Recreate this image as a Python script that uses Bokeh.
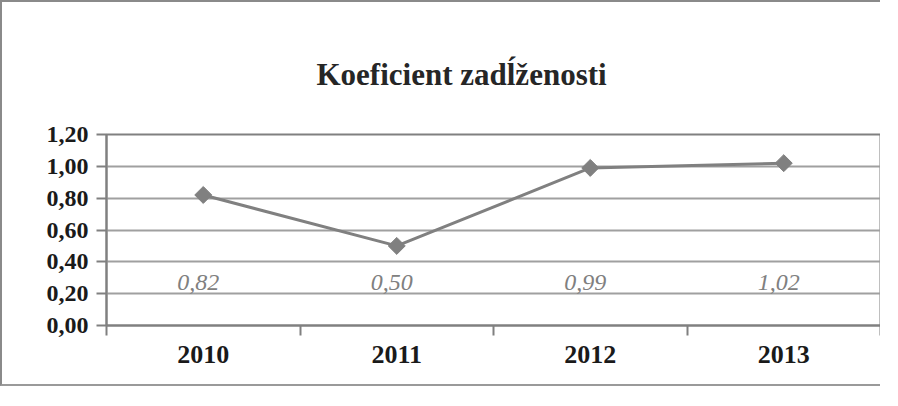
from bokeh.plotting import figure
from bokeh.models import FixedTicker, Range1d, ColumnDataSource
from bokeh.core.properties import value
from bokeh.embed import file_html
from bokeh.resources import INLINE
import math

# ---- data ----
years = ["2010", "2011", "2012", "2013"]
ratio = [0.82, 0.50, 0.99, 1.02]
y_ticks = [0.0, 0.2, 0.4, 0.6, 0.8, 1.0, 1.2]
y_tick_labels = ["0,00", "0,20", "0,40", "0,60", "0,80", "1,00", "1,20"]
title_text = "Koeficient zadĺženosti"

GRAY = "#808080"
GRID = "#a0a0a0"
SERIF = "Liberation Serif"

xs = [i + 0.5 for i in range(len(years))]
labels = [f"{v:.2f}".replace(".", ",") for v in ratio]
src = ColumnDataSource(dict(x=xs, y=ratio, lab=labels, ly=[0.27] * len(xs)))

p = figure(width=880, height=386, output_backend="svg", toolbar_location=None,
           x_range=Range1d(0, len(years)), y_range=Range1d(0, 1.2),
           min_border_left=104, min_border_right=2, min_border_top=132, min_border_bottom=63)
p.styles = {"border-left": "2px solid #8a8a8a", "border-top": "2px solid #8a8a8a",
            "border-bottom": "2px solid #9a9a9a"}
p.background_fill_color = "white"
p.border_fill_color = "white"
p.outline_line_color = GRAY
p.outline_line_width = 2

# title
p.title.text = title_text
p.title.text_font = SERIF
p.title.text_font_style = "bold"
p.title.text_font_size = "31px"
p.title.text_color = "#262626"
p.title.align = "left"
p.title.vertical_align = "top"
p.title.offset = 210
p.title.standoff = 82

# y axis
p.yaxis.ticker = FixedTicker(ticks=y_ticks)
p.yaxis.major_label_overrides = {t: s for t, s in zip(y_ticks, y_tick_labels)}
p.yaxis.major_label_text_font = SERIF
p.yaxis.major_label_text_font_style = "bold"
p.yaxis.major_label_text_font_size = "24px"
p.yaxis.major_label_text_color = "#1a1a1a"
p.yaxis.major_tick_out = 10
p.yaxis.major_tick_in = 0
p.yaxis.minor_tick_out = 0
p.yaxis.minor_tick_in = 0
p.yaxis.major_label_standoff = 8
p.yaxis.axis_line_color = GRAY
p.yaxis.axis_line_width = 2
p.yaxis.major_tick_line_color = GRAY
p.yaxis.major_tick_line_width = 2

# x axis
p.xaxis.ticker = FixedTicker(ticks=xs, minor_ticks=list(range(len(years) + 1)))
p.xaxis.major_label_overrides = {x: y for x, y in zip(xs, years)}
p.xaxis.major_label_text_font = SERIF
p.xaxis.major_label_text_font_style = "bold"
p.xaxis.major_label_text_font_size = "26px"
p.xaxis.major_label_text_color = "#1a1a1a"
p.xaxis.major_tick_out = 0
p.xaxis.major_tick_in = 0
p.xaxis.minor_tick_out = 10
p.xaxis.minor_tick_in = 0
p.xaxis.minor_tick_line_color = GRAY
p.xaxis.minor_tick_line_width = 2
p.xaxis.major_label_standoff = 10
p.xaxis.axis_line_color = GRAY
p.xaxis.axis_line_width = 2

p.xgrid.grid_line_color = None
p.ygrid.ticker = FixedTicker(ticks=y_ticks)
p.ygrid.grid_line_color = GRID
p.ygrid.grid_line_width = 2

# series
p.line("x", "y", source=src, line_color=GRAY, line_width=3)
p.scatter("x", "y", source=src, marker="square", angle=math.pi / 4, size=12,
          fill_color=GRAY, line_color=GRAY)

# data labels
p.text("x", "ly", text="lab", source=src, text_font=value(SERIF), text_font_style="italic",
       text_font_size="24px", text_color=GRAY, text_align="center", text_baseline="middle",
       x_offset=-5)

open("out.html", "w").write(file_html(p, INLINE))
